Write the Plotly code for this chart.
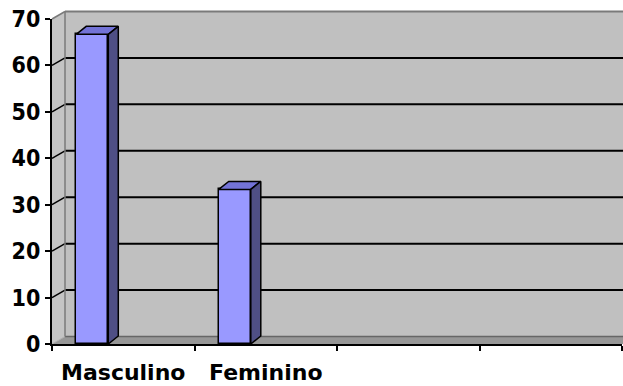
import plotly.graph_objects as go

# ---- data ----
categories = ["Masculino", "Feminino", "", ""]
values = [66.7, 33.3]
y_ticks = [0, 10, 20, 30, 40, 50, 60, 70]

# ---- geometry ----
W, H = 623, 386
ML, MR, MT, MB = 52, 1, 19, 42
PW, PH = W - ML - MR, H - MT - MB
YMAX = 70
NCAT = len(categories)
XMIN, XMAX = -0.5, NCAT - 0.5

px_per_x = PW / (XMAX - XMIN)
px_per_y = PH / YMAX

# wall depth (pixels) and bar depth (pixels)
WALL_DX, WALL_DY = 13, 7.5
BAR_DX, BAR_DY = 10, 8
BAR_W, BAR_OFF = 0.225, -0.33

FRONT = "#9999ff"
TOP = "#7373d6"
SIDE = "#4f4f85"
WALL = "#c0c0c0"
FLOOR = "#979797"
EDGE = "#7a7a7a"

def py(yd):  # data y -> paper y
    return yd / YMAX

DXP = WALL_DX / PW
DYP = WALL_DY / PH

shapes = []
def poly(pts, fill, line="rgba(0,0,0,0)", lw=0):
    path = "M " + " L ".join(f"{a},{b}" for a, b in pts) + " Z"
    shapes.append(dict(type="path", path=path, xref="paper", yref="paper",
                       fillcolor=fill, line=dict(color=line, width=lw), layer="below"))

def seg(x0, y0, x1, y1, color, lw):
    shapes.append(dict(type="line", x0=x0, y0=y0, x1=x1, y1=y1, xref="paper", yref="paper",
                       line=dict(color=color, width=lw), layer="below"))

# back wall
poly([(DXP, DYP), (1.05, DYP), (1.05, 1 + DYP), (DXP, 1 + DYP)], WALL)
# left wall
poly([(0, 0), (0, 1), (DXP, 1 + DYP), (DXP, DYP)], "#c4c4c4")
# floor
poly([(0, 0), (1.05, 0), (1.05, DYP), (DXP, DYP)], FLOOR)

# gridlines on back wall + diagonal connectors on left wall
for v in y_ticks:
    yb = py(v) + DYP
    if v == 0:
        seg(DXP, yb, 1.05, yb, "#666666", 1.5)
        seg(0, py(v), DXP, yb, "#b0b0b0", 1)
    elif v == YMAX:
        seg(DXP, yb, 1.05, yb, EDGE, 2)
        seg(0, py(v), DXP, yb, EDGE, 1.5)
    else:
        seg(DXP, yb, 1.05, yb, "#000000", 2)
        seg(0, py(v), DXP, yb, "#000000", 1.5)
# back wall left edge
seg(DXP, DYP, DXP, 1 + DYP, EDGE, 1.5)

fig = go.Figure()

xs = list(range(len(values)))
fig.add_trace(go.Bar(
    x=xs, y=values, width=BAR_W, offset=BAR_OFF,
    marker=dict(color=FRONT, line=dict(color="black", width=1.5)),
    hoverinfo="skip", showlegend=False,
))

dxu = BAR_DX / px_per_x
dyu = BAR_DY / px_per_y
for xi, v in zip(xs, values):
    x0 = xi + BAR_OFF
    x1 = x0 + BAR_W
    # top face
    fig.add_trace(go.Scatter(
        x=[x0, x1, x1 + dxu, x0 + dxu, x0],
        y=[v, v, v + dyu, v + dyu, v],
        fill="toself", fillcolor=TOP, mode="lines",
        line=dict(color="black", width=1.5), hoverinfo="skip", showlegend=False))
    # side face
    fig.add_trace(go.Scatter(
        x=[x1, x1, x1 + dxu, x1 + dxu, x1],
        y=[0, v, v + dyu, dyu, 0],
        fill="toself", fillcolor=SIDE, mode="lines",
        line=dict(color="black", width=1.5), hoverinfo="skip", showlegend=False))

fig.update_layout(
    width=W, height=H,
    margin=dict(l=ML, r=MR, t=MT, b=MB, pad=0),
    paper_bgcolor="white",
    plot_bgcolor="rgba(0,0,0,0)",
    shapes=shapes,
    showlegend=False,
    font=dict(family="DejaVu Sans", color="black"),
    bargap=0,
)

fig.update_xaxes(
    range=[XMIN, XMAX], showgrid=False, zeroline=False,
    tickmode="array", tickvals=list(range(NCAT)), ticktext=categories,
    ticks="", tickfont=dict(size=22, family="DejaVu Sans", weight="bold"),
    ticklabelstandoff=8,
    showline=True, linecolor="black", linewidth=2,
    minor=dict(tickmode="array", tickvals=[i - 0.5 for i in range(NCAT + 1)],
               ticks="outside", ticklen=5, tickwidth=2, tickcolor="black", showgrid=False),
    fixedrange=True,
)
fig.update_yaxes(
    range=[0, YMAX], showgrid=False, zeroline=False,
    tickmode="array", tickvals=y_ticks,
    ticks="outside", ticklen=5, tickwidth=2, tickcolor="black",
    tickfont=dict(size=23, family="DejaVu Sans Condensed, DejaVu Sans", weight="bold"),
    ticklabelstandoff=0,
    showline=True, linecolor="black", linewidth=2,
    fixedrange=True,
)

fig.write_html("out.html")
